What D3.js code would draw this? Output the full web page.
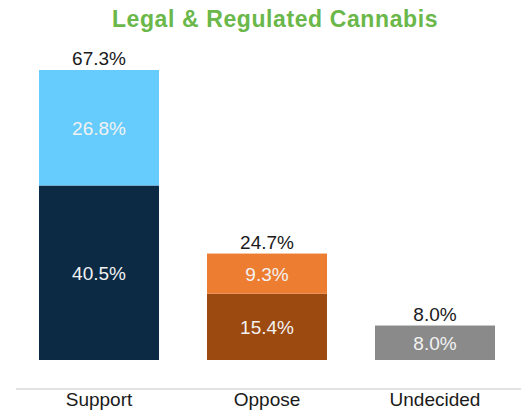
<!DOCTYPE html>
<html>
<head>
<meta charset="utf-8">
<script src="https://cdn.jsdelivr.net/npm/d3@7/dist/d3.min.js"></script>
<style>
html,body{margin:0;padding:0;background:#fff;}
svg{display:block;font-family:"Liberation Sans",Arial,sans-serif;}
</style>
</head>
<body>
<svg id="chart" width="521" height="410"></svg>
<script>
const categories = ["Support", "Oppose", "Undecided"];
const baseValues = [40.5, 15.4, 8.0];
const topValues = [26.8, 9.3, 0];
const totals = [67.3, 24.7, 8.0];
const baseColors = ["#0c2a44", "#9c4a10", "#8a8a8a"];
const topColors = ["#66ccfe", "#ed7d31", "#8a8a8a"];
const title = "Legal & Regulated Cannabis";

const svg = d3.select("#chart");

const x = d3.scaleBand().domain(categories).range([15, 519])
  .paddingInner(0.2857).paddingOuter(0.1429);
const y = d3.scaleLinear().domain([0, 67.3]).range([360, 70]);

svg.append("text").attr("x", 275).attr("y", 26.5).attr("text-anchor", "middle")
  .attr("font-size", 23).attr("letter-spacing", 0.6).attr("font-weight", "bold")
  .attr("fill", "#6ab74a").text(title);

const rows = categories.map((c, i) => ({c, base: baseValues[i], top: topValues[i], total: totals[i], i}));

svg.selectAll("rect.base").data(rows).enter().append("rect")
  .attr("x", d => x(d.c)).attr("width", x.bandwidth())
  .attr("y", d => y(d.base)).attr("height", d => y(0) - y(d.base))
  .attr("fill", d => baseColors[d.i]);

svg.selectAll("rect.top").data(rows.filter(d => d.top > 0)).enter().append("rect")
  .attr("x", d => x(d.c)).attr("width", x.bandwidth())
  .attr("y", d => y(d.base + d.top)).attr("height", d => y(d.base) - y(d.base + d.top))
  .attr("fill", d => topColors[d.i]);

const fs = 19;

svg.selectAll("text.base").data(rows).enter().append("text")
  .attr("x", d => x(d.c) + x.bandwidth() / 2)
  .attr("y", d => (y(0) + y(d.base)) / 2 + 7)
  .attr("text-anchor", "middle").attr("font-size", fs).attr("fill", "#f2f2f2")
  .text(d => d.base.toFixed(1) + "%");

svg.selectAll("text.top").data(rows.filter(d => d.top > 0)).enter().append("text")
  .attr("x", d => x(d.c) + x.bandwidth() / 2)
  .attr("y", d => (y(d.base) + y(d.base + d.top)) / 2 + 7)
  .attr("text-anchor", "middle").attr("font-size", fs).attr("fill", "#f2f2f2")
  .text(d => d.top.toFixed(1) + "%");

svg.selectAll("text.total").data(rows).enter().append("text")
  .attr("x", d => x(d.c) + x.bandwidth() / 2)
  .attr("y", d => y(d.total) - 5)
  .attr("text-anchor", "middle").attr("font-size", fs).attr("fill", "#1a1a1a")
  .text(d => d.total.toFixed(1) + "%");

const axis = svg.append("g").attr("transform", "translate(0,389)")
  .call(d3.axisBottom(x).tickSize(0).tickPadding(3));
axis.select(".domain").attr("stroke", "#d9d9d9").attr("stroke-width", 1.5)
  .attr("d", "M16,0H521");
axis.selectAll(".tick text").attr("font-size", fs).attr("fill", "#1a1a1a")
  .attr("font-family", "Liberation Sans, Arial, sans-serif");
</script>
</body>
</html>
